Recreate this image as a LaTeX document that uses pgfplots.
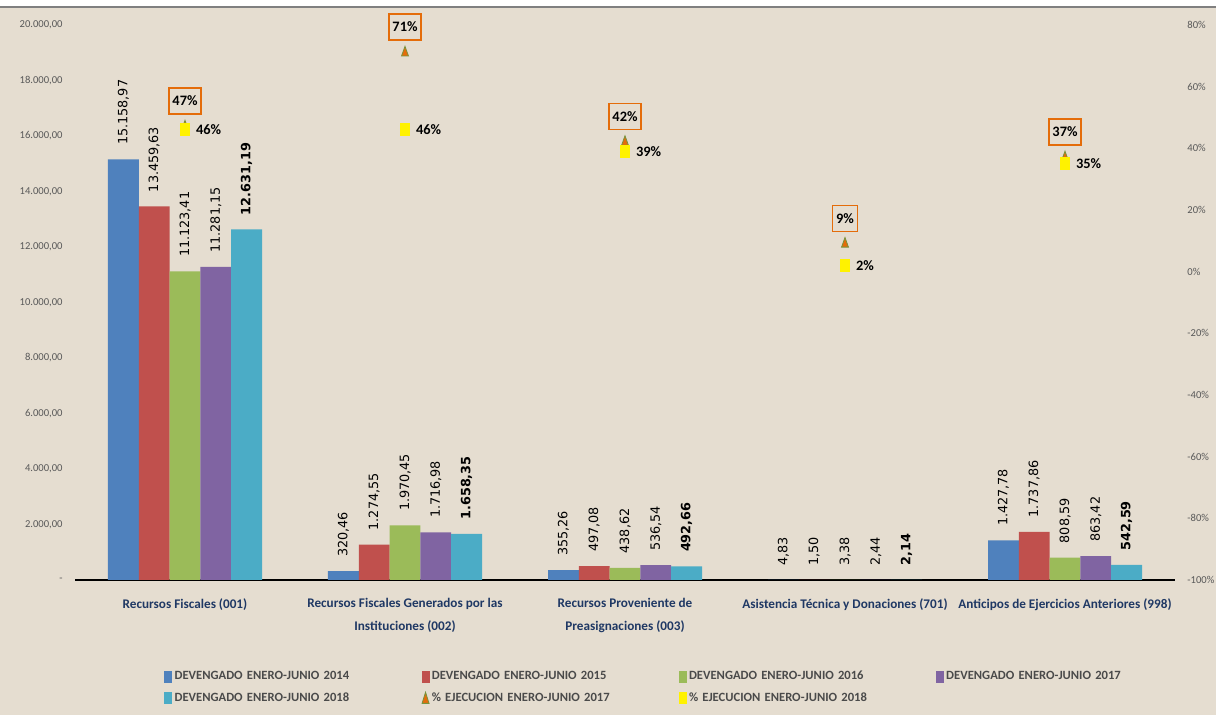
\documentclass[border=0pt]{standalone}
\usepackage{pgfplots}
\pgfplotsset{compat=1.18}
\usepackage{pgfplotstable}
\usepackage{fontspec}
\setmainfont{Carlito}
\newfontfamily\dejavu{DejaVu Sans}

\definecolor{bgbeige}{HTML}{E5DDD0}
\definecolor{c14}{HTML}{4F81BD}
\definecolor{c15}{HTML}{C0504D}
\definecolor{c16}{HTML}{9BBB59}
\definecolor{c17}{HTML}{8064A2}
\definecolor{c18}{HTML}{4BACC6}
\definecolor{triorange}{HTML}{E46C0A}
\definecolor{triolive}{HTML}{77933C}
\definecolor{catnavy}{HTML}{1F3864}
\definecolor{ticgray}{HTML}{595959}
\definecolor{leggray}{HTML}{4A4A4A}

% devengado (bars) and % ejecucion (markers) per fuente de financiamiento
\pgfplotstableread{
cat d14 d15 d16 d17 d18 p17 p18
0 15158.97 13459.63 11123.41 11281.15 12631.19 47 46
1 320.46 1274.55 1970.45 1716.98 1658.35 71 46
2 355.26 497.08 438.62 536.54 492.66 42 39
3 4.83 1.50 3.38 2.44 2.14 9 2
4 1427.78 1737.86 808.59 863.42 542.59 37 35
}\datatable

\newcommand{\legtext}[1]{\textbf{#1}}

\pgfplotsset{
  frame/.style={
    at={(37.5pt,67.5pt)}, anchor=south west,
    width=550pt, height=277.5pt, scale only axis,
    xmin=-0.5, xmax=4.5,
    major tick length=0pt,
    scaled y ticks=false,
    tick label style={font=\fontsize{5.3}{6}\selectfont, text=ticgray, inner sep=0pt},
  },
  barlab/.style={
    nodes near coords={\pgfmathprintnumber[assume math mode=true,fixed,fixed zerofill,precision=2,1000 sep={.},dec sep={,}]{\pgfplotspointmeta}},
    every node near coord/.append style={rotate=90, anchor=west, inner xsep=7pt, inner ysep=0pt,
      text=black, font=\dejavu\fontsize{6.4}{7}\selectfont},
  },
}

\begin{document}
\begin{tikzpicture}
\fill[bgbeige] (0,0) rectangle (608pt,357.5pt);
\fill[white] (0,354pt) rectangle (608pt,357.5pt);
\draw[gray, line width=0.6pt] (0,354pt) -- (608pt,354pt);

\begin{axis}[frame,
  ybar=0pt, bar width=15.4pt,
  ymin=0, ymax=20000,
  ytick={0,2000,...,20000},
  yticklabels={-, {2.000,00}, {4.000,00}, {6.000,00}, {8.000,00}, {10.000,00},
               {12.000,00}, {14.000,00}, {16.000,00}, {18.000,00}, {20.000,00}},
  yticklabel style={xshift=-6pt},
  xtick={0,1,2,3,4},
  xticklabels={Recursos Fiscales (001),
    {Recursos Fiscales Generados por las\\Instituciones (002)},
    {Recursos Proveniente de\\Preasignaciones (003)},
    Asistencia Técnica y Donaciones (701),
    Anticipos de Ejercicios Anteriores (998)},
  xticklabel style={font=\bfseries\fontsize{6.6}{11.5}\selectfont, text=catnavy, align=center, yshift=-9pt},
  axis lines*=left,
  y axis line style={draw=none},
  x axis line style={-, black, line width=0.6pt},
  barlab,
]
\addplot[fill=c14, draw=none] table[x=cat, y=d14]{\datatable};
\addplot[fill=c15, draw=none] table[x=cat, y=d15]{\datatable};
\addplot[fill=c16, draw=none] table[x=cat, y=d16]{\datatable};
\addplot[fill=c17, draw=none] table[x=cat, y=d17]{\datatable};
\addplot[fill=c18, draw=none, every node near coord/.append style={font=\dejavu\bfseries\fontsize{6.4}{7}\selectfont}]
  table[x=cat, y=d18]{\datatable};
\end{axis}

\begin{axis}[frame,
  ymin=-100, ymax=80,
  ytick={-100,-80,...,80},
  yticklabels={-100\%,-80\%,-60\%,-40\%,-20\%,0\%,20\%,40\%,60\%,80\%},
  yticklabel style={xshift=6pt},
  axis y line*=right, axis x line=none,
  y axis line style={draw=none},
  legend columns=4,
  legend style={at={(axis description cs:0.0755,-0.152)}, anchor=north west,
    draw=none, fill=none, row sep=3pt,
    font=\fontsize{6.3}{7.5}\selectfont,
    nodes={text width=122.3pt, text=leggray, inner xsep=1.2pt, inner ysep=1pt}},
]
\addlegendimage{legend image code/.code={\fill[c14] (0pt,-2.75pt) rectangle (3.5pt,2.75pt);}}
\addlegendentry{\legtext{DEVENGADO ENERO-JUNIO 2014}}
\addlegendimage{legend image code/.code={\fill[c15] (0pt,-2.75pt) rectangle (3.5pt,2.75pt);}}
\addlegendentry{\legtext{DEVENGADO ENERO-JUNIO 2015}}
\addlegendimage{legend image code/.code={\fill[c16] (0pt,-2.75pt) rectangle (3.5pt,2.75pt);}}
\addlegendentry{\legtext{DEVENGADO ENERO-JUNIO 2016}}
\addlegendimage{legend image code/.code={\fill[c17] (0pt,-2.75pt) rectangle (3.5pt,2.75pt);}}
\addlegendentry{\legtext{DEVENGADO ENERO-JUNIO 2017}}
\addlegendimage{legend image code/.code={\fill[c18] (0pt,-2.75pt) rectangle (3.5pt,2.75pt);}}
\addlegendentry{\legtext{DEVENGADO ENERO-JUNIO 2018}}
\addlegendimage{legend image code/.code={\draw[triolive, fill=triorange, line width=0.4pt] (0pt,-2.6pt) -- (3.5pt,-2.6pt) -- (1.75pt,3pt) -- cycle;}}
\addlegendentry{\legtext{\% EJECUCION ENERO-JUNIO 2017}}
\addlegendimage{legend image code/.code={\fill[yellow] (0pt,-2.75pt) rectangle (3.5pt,2.75pt);}}
\addlegendentry{\legtext{\% EJECUCION ENERO-JUNIO 2018}}

\addplot[forget plot, only marks, color=triolive, mark=triangle*, mark size=2pt,
  mark options={yscale=1.6, fill=triorange, draw=triolive, line width=0.4pt},
  nodes near coords={\pgfmathprintnumber[assume math mode=true,fixed,precision=0]{\pgfplotspointmeta}\%},
  every node near coord/.append style={anchor=south, yshift=6pt, draw=triorange, line width=0.7pt,
    text=black, font=\bfseries\fontsize{7.2}{8}\selectfont, inner xsep=1.8pt, minimum height=13pt}]
  table[x=cat, y=p17]{\datatable};
\addplot[forget plot, only marks, color=yellow, mark=square*, mark size=2.25pt,
  mark options={yscale=1.33, fill=yellow, draw=yellow, line width=0pt},
  nodes near coords={\pgfmathprintnumber[assume math mode=true,fixed,precision=0]{\pgfplotspointmeta}\%},
  every node near coord/.append style={anchor=west, xshift=5.5pt, yshift=0pt, inner sep=0pt,
    text=black, font=\bfseries\fontsize{7.2}{8}\selectfont}]
  table[x=cat, y=p18]{\datatable};
\end{axis}

\pgfresetboundingbox
\useasboundingbox (0,0) rectangle (608pt,357.5pt);
\end{tikzpicture}
\end{document}
